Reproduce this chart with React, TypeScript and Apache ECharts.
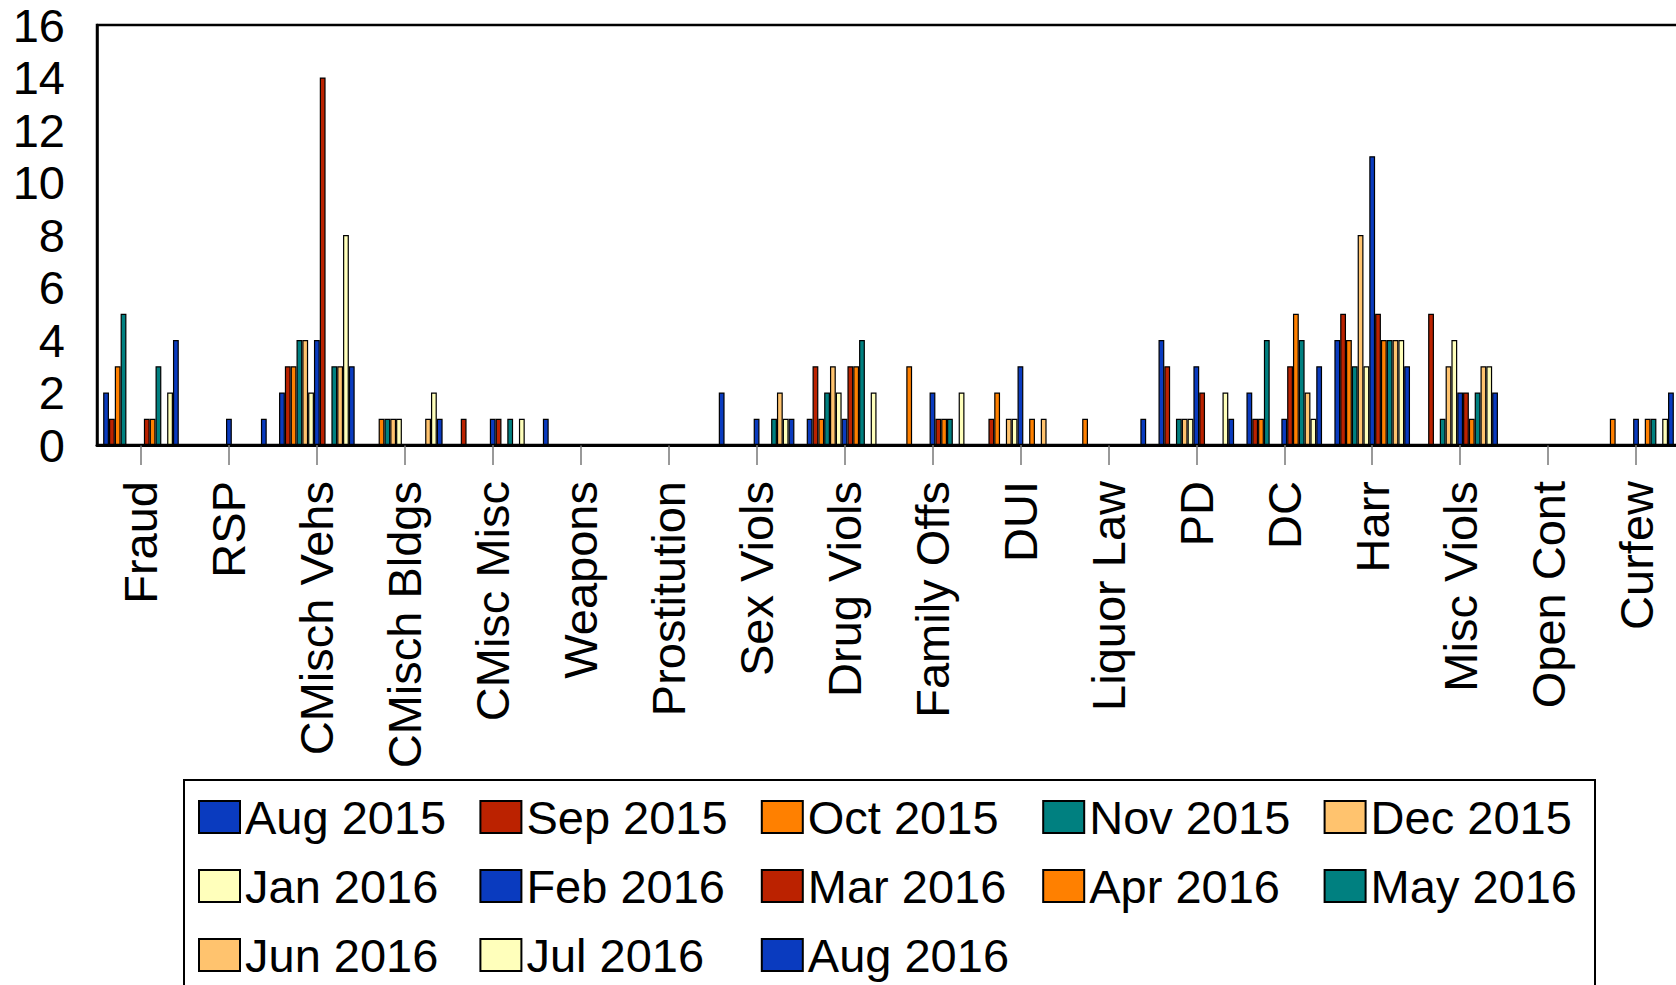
import React, { useEffect, useRef } from "react";
import * as echarts from "echarts";

const categories = [
  "Fraud", "RSP", "CMisch Vehs", "CMisch Bldgs", "CMisc Misc", "Weapons",
  "Prostitution", "Sex Viols", "Drug Viols", "Family Offs", "DUI", "Liquor Law",
  "PD", "DC", "Harr", "Misc Viols", "Open Cont", "Curfew",
];

const months = [
  "Aug 2015", "Sep 2015", "Oct 2015", "Nov 2015", "Dec 2015",
  "Jan 2016", "Feb 2016", "Mar 2016", "Apr 2016", "May 2016",
  "Jun 2016", "Jul 2016", "Aug 2016",
];

// values per category, one entry per month (Aug 2015 .. Aug 2016)
const fraud = [2, 1, 3, 5, 0, 0, 0, 1, 1, 3, 0, 2, 4];
const rsp = [0, 0, 0, 0, 0, 0, 1, 0, 0, 0, 0, 0, 1];
const cmischVehs = [2, 3, 3, 4, 4, 2, 4, 14, 0, 3, 3, 8, 3];
const cmischBldgs = [0, 0, 1, 1, 1, 1, 0, 0, 0, 0, 1, 2, 1];
const cmiscMisc = [0, 1, 0, 0, 0, 0, 1, 1, 0, 1, 0, 1, 0];
const weapons = [1, 0, 0, 0, 0, 0, 0, 0, 0, 0, 0, 0, 0];
const prostitution = [0, 0, 0, 0, 0, 0, 0, 0, 0, 0, 0, 0, 0];
const sexViols = [2, 0, 0, 0, 0, 0, 1, 0, 0, 1, 2, 1, 1];
const drugViols = [1, 3, 1, 2, 3, 2, 1, 3, 3, 4, 0, 2, 0];
const familyOffs = [0, 0, 3, 0, 0, 0, 2, 1, 1, 1, 0, 2, 0];
const dui = [0, 1, 2, 0, 1, 1, 3, 0, 1, 0, 1, 0, 0];
const liquorLaw = [0, 0, 1, 0, 0, 0, 0, 0, 0, 0, 0, 0, 1];
const pd = [4, 3, 0, 1, 1, 1, 3, 2, 0, 0, 0, 2, 1];
const dc = [2, 1, 1, 4, 0, 0, 1, 3, 5, 4, 2, 1, 3];
const harr = [4, 5, 4, 3, 8, 3, 11, 5, 4, 4, 4, 4, 3];
const miscViols = [0, 5, 0, 1, 3, 4, 2, 2, 1, 2, 3, 3, 2];
const openCont = [0, 0, 0, 0, 0, 0, 0, 0, 0, 0, 0, 0, 0];
const curfew = [0, 0, 1, 0, 0, 0, 1, 0, 1, 1, 0, 1, 2];

const categoryValues = [
  fraud, rsp, cmischVehs, cmischBldgs, cmiscMisc, weapons, prostitution,
  sexViols, drugViols, familyOffs, dui, liquorLaw, pd, dc, harr, miscViols,
  openCont, curfew,
];

const yTicks = { min: 0, max: 16, interval: 2 };

const BLUE = "#0A3BBF";
const RED = "#BB2200";
const ORANGE = "#FF8000";
const TEAL = "#008080";
const LORANGE = "#FFC36E";
const LYELLOW = "#FFFFBB";
const colors = [BLUE, RED, ORANGE, TEAL, LORANGE, LYELLOW, BLUE, RED, ORANGE, TEAL, LORANGE, LYELLOW, BLUE];

const FONT = '"Liberation Sans", Arial, sans-serif';
const FS = 47;

export default function App() {
  const ref = useRef<HTMLDivElement>(null);
  useEffect(() => {
    if (!ref.current) return;
    const chart = echarts.init(ref.current, undefined, { renderer: "svg" });

    const series = months.map((m, i) => ({
      name: m,
      type: "bar",
      data: categoryValues.map((v) => v[i]),
      barGap: "0%",
      barCategoryGap: "14%",
      itemStyle: { color: colors[i], borderColor: "#000", borderWidth: 1.2 },
    }));

    const rowCenters = [817, 886, 955];
    const legends = months.map((m, i) => {
      const col = i % 5;
      const row = Math.floor(i / 5);
      return {
        data: [m],
        left: 198 + col * 281.4,
        top: rowCenters[row] - 25,
        padding: 0,
        itemWidth: 41,
        itemHeight: 32,
        itemGap: 0,
        icon: "rect",
        selectedMode: false,
        textStyle: { fontFamily: FONT, fontSize: FS, color: "#000", lineHeight: 50, padding: [0, 0, 0, 0] },
      };
    });

    chart.setOption({
      animation: false,
      backgroundColor: "#fff",
      textStyle: { fontFamily: FONT },
      grid: {
        left: 97,
        top: 25,
        height: 420,
        width: 1583,
        show: true,
        borderColor: "#000",
        borderWidth: 2.5,
        containLabel: false,
        outerBoundsMode: "none",
      },
      legend: legends,
      xAxis: {
        type: "category",
        data: categories,
        axisLine: { show: true, lineStyle: { color: "#000", width: 3 } },
        axisTick: { show: true, alignWithLabel: true, length: 20, lineStyle: { color: "#777", width: 1.5 } },
        axisLabel: { interval: 0, rotate: 90, fontSize: FS, color: "#000", fontFamily: FONT, margin: 36 },
        splitLine: { show: false },
      },
      yAxis: {
        type: "value",
        min: yTicks.min,
        max: yTicks.max,
        interval: yTicks.interval,
        axisLine: { show: true, lineStyle: { color: "#000", width: 2.5 } },
        axisTick: { show: false },
        axisLabel: { fontSize: FS, color: "#000", fontFamily: FONT, margin: 32 },
        splitLine: { show: false },
      },
      graphic: [
        {
          type: "rect",
          shape: { x: 184, y: 780, width: 1411, height: 230 },
          style: { fill: "none", stroke: "#000", lineWidth: 2 },
          silent: true,
        },
      ],
      series,
    });
    return () => chart.dispose();
  }, []);
  return (
    <div
      ref={ref}
      style={{ position: "fixed", left: 0, top: 0, width: 1676, height: 985, background: "#fff" }}
    />
  );
}
